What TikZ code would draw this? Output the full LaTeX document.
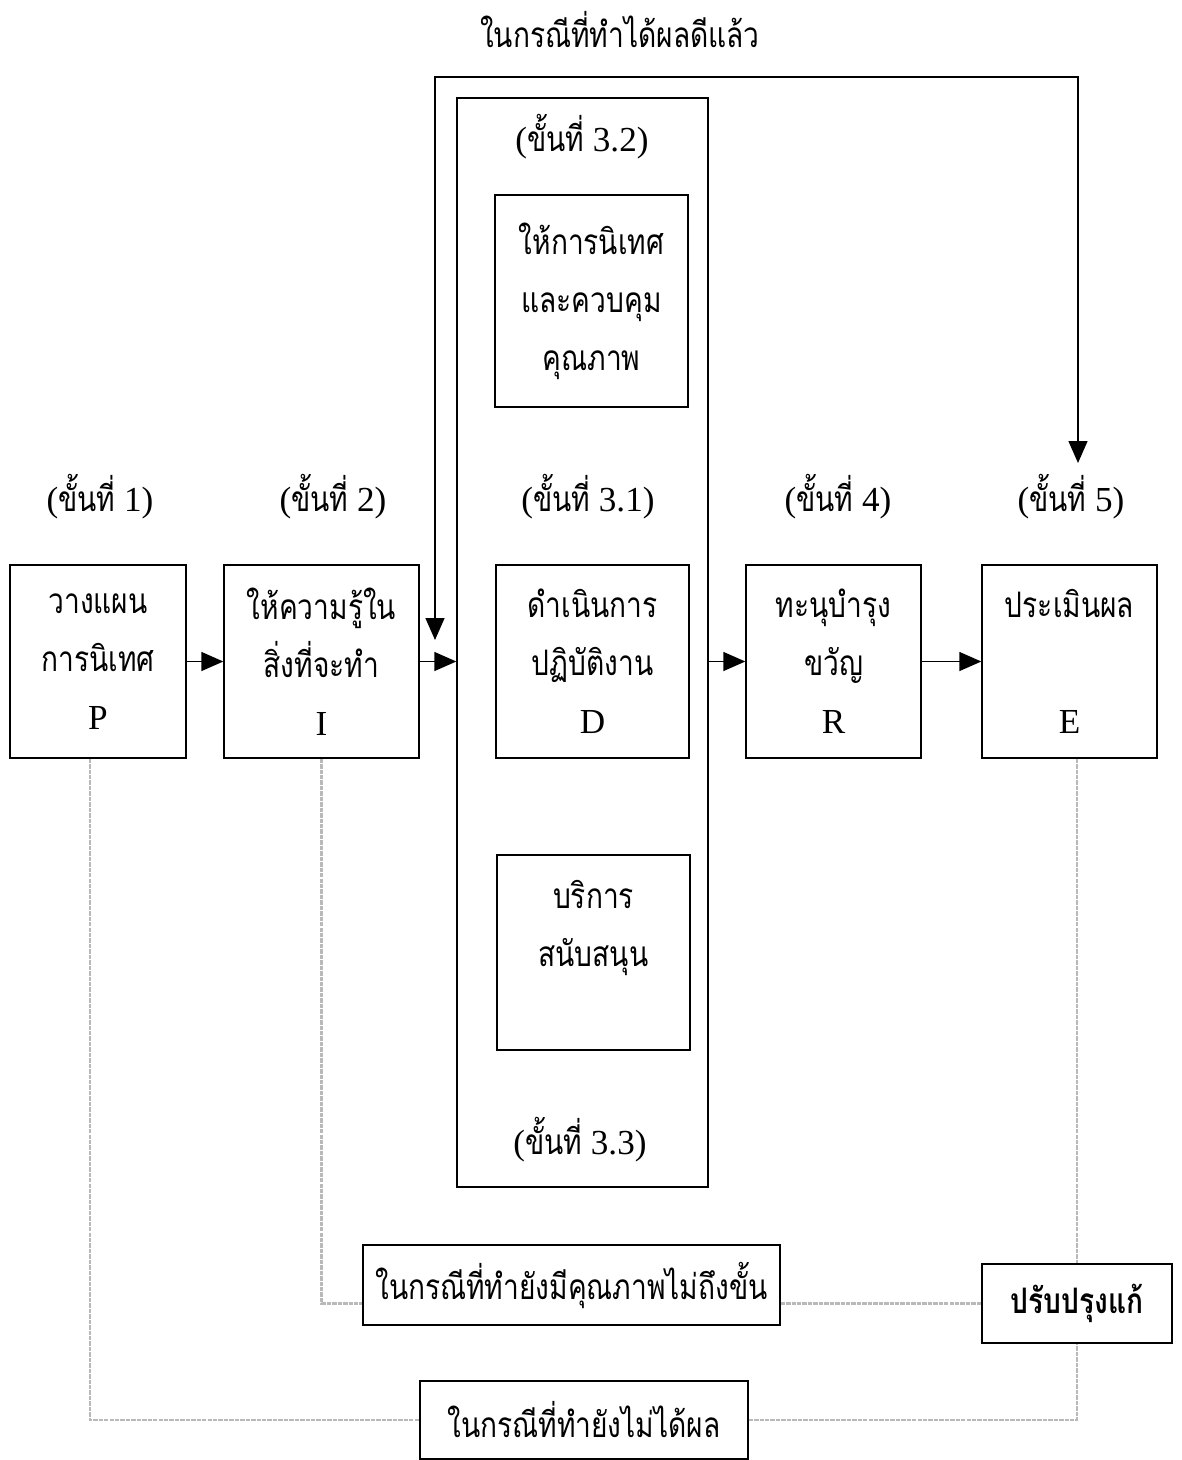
\documentclass[tikz,border=0pt]{standalone}
\usepackage{fontspec}
\setmainfont{Liberation Serif}
\newfontfamily\thai[Script=Thai, FakeStretch=0.8]{Loma}
\usetikzlibrary{positioning,arrows.meta}
\newcommand{\stage}[1]{({\thai ขั้นที่}~#1)}

\begin{document}
\begin{tikzpicture}[x=0.02cm,y=-0.02cm,
    box/.style={draw, line width=0.8pt, align=center, inner sep=0pt,
                font=\thai\fontsize{20}{33}\selectfont},
    lab/.style={font=\fontsize{20}{24}\selectfont},
    arr/.style={line width=0.8pt, -{Triangle[length=0.44cm,width=0.38cm]}},
    fb/.style={draw=gray!55, line width=1.4pt, dash pattern=on 2.5pt off 0.6pt}]
    \useasboundingbox (0,0) rectangle (1181,1460);

    % main steps
    \node[box, minimum width=3.52cm, minimum height=3.86cm] (P) at (98,661.5) {วางแผน\\การนิเทศ\\{\rmfamily P}};
    \node[box, minimum width=3.9cm, minimum height=3.86cm] (I) at (321.5,661.5) {ให้ความรู้ใน\\สิ่งที่จะทำ\\{\rmfamily I}};
    \node[draw, line width=0.8pt, minimum width=5.02cm, minimum height=21.78cm] (col) at (582.5,642.5) {};
    \node[box, minimum width=3.86cm, minimum height=4.24cm] (sup) at (591.5,301) {ให้การนิเทศ\\และควบคุม\\คุณภาพ};
    \node[box, minimum width=3.86cm, minimum height=3.86cm] (D) at (592.5,661.5) {ดำเนินการ\\ปฏิบัติงาน\\{\rmfamily D}};
    \node[box, minimum width=3.86cm, minimum height=3.9cm] (srv) at (593.5,952.5) {บริการ\\สนับสนุน\\~};
    \node[box, minimum width=3.5cm, minimum height=3.86cm] (R) at (833.5,661.5) {ทะนุบำรุง\\ขวัญ\\{\rmfamily R}};
    \node[box, minimum width=3.5cm, minimum height=3.86cm] (E) at (1069.5,661.5) {ประเมินผล\\~\\{\rmfamily E}};

    % step labels
    \node[lab] (lab1) at (100,497) {\stage{1}};
    \node[lab] (lab2) at (333,497) {\stage{2}};
    \node[lab] (lab31) at (588,497) {\stage{3.1}};
    \node[lab] (lab32) at (582,137) {\stage{3.2}};
    \node[lab] (lab33) at (580,1140) {\stage{3.3}};
    \node[lab] (lab4) at (838,497) {\stage{4}};
    \node[lab] (lab5) at (1071,497) {\stage{5}};

    % feedback boxes
    \node[box, minimum width=8.34cm, minimum height=1.6cm] (part) at (571.5,1285) {ในกรณีที่ทำยังมีคุณภาพไม่ถึงขั้น};
    \node[box, minimum width=3.8cm, minimum height=1.58cm, font=\thai\bfseries\fontsize{20}{24}\selectfont] (fix) at (1077,1303.5) {ปรับปรุงแก้};
    \node[box, minimum width=6.56cm, minimum height=1.56cm] (fail) at (584,1420) {ในกรณีที่ทำยังไม่ได้ผล};
    \node[lab, font=\thai\fontsize{20}{24}\selectfont] (good) at (620,30) {ในกรณีที่ทำได้ผลดีแล้ว};

    % forward flow
    \draw[arr] (P) -- (I);
    \draw[arr] (I.east) -- (I.east -| col.west);
    \draw[arr] (col.east |- R.west) -- (R.west);
    \draw[arr] (R) -- (E);

    % loop back when done well
    \coordinate (in) at (435,640);
    \coordinate (ok1) at (435,77);
    \coordinate (ok2) at (1078,463);
    \draw[arr, {Triangle[length=0.44cm,width=0.38cm]}-{Triangle[length=0.44cm,width=0.38cm]}] (in) -- (ok1) -| (ok2);

    % corrections
    \draw[fb] (fix.north |- E.south) -- (fix.north);
    \draw[fb] ([xshift=-0.16cm]P.south) |- (fail.west);
    \draw[fb] (fail.east) -| (fix.south);
    \draw[fb] (I.south) |- (part.west |- fix.west);
    \draw[fb] (part.east |- fix.west) -- (fix.west);
\end{tikzpicture}
\end{document}
